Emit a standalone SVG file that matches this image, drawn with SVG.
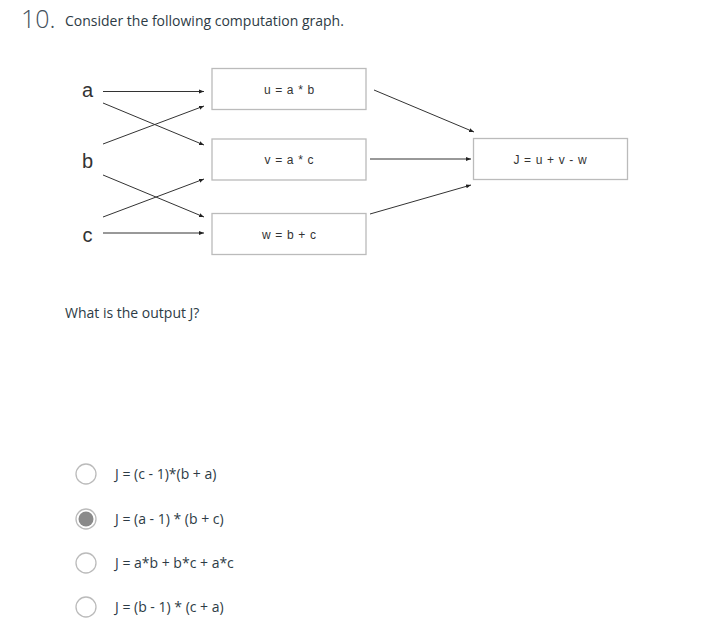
<svg xmlns="http://www.w3.org/2000/svg" width="719" height="629" viewBox="0 0 719 629">
<defs>
<marker id="ah" viewBox="0 0 10 10" refX="10" refY="5" markerWidth="5" markerHeight="5" orient="auto" markerUnits="userSpaceOnUse">
<path d="M0,1 L10,5 L0,9 z" fill="#222"/>
</marker>
<style>
.q{font-family:"Open Sans","Noto Sans",sans-serif;font-size:14px;fill:#2d3b45}
.num{font-family:"Open Sans","Noto Sans",sans-serif;font-size:25px;font-weight:300;fill:#44505c}
.v{font-family:"Liberation Sans",Arial,sans-serif;font-size:20px;fill:#333;text-anchor:middle}
.bx rect{fill:#fff;stroke:#bbb;stroke-width:1.3}
.bx text{font-family:"Liberation Sans",Arial,sans-serif;font-size:12px;word-spacing:1.3px;fill:#333;text-anchor:middle}
.e line{stroke:#333;stroke-width:1;marker-end:url(#ah)}
.r{fill:#fff;stroke:#bbb;stroke-width:1.3}
</style>
</defs>
<rect width="719" height="629" fill="#fff"/>
<text class="num" x="21" y="28">10.</text>
<text class="q" x="65" y="26">Consider the following computation graph.</text>

<g id="node-a"><text class="v" x="87.5" y="97">a</text></g>
<g id="node-b"><text class="v" x="87.5" y="168">b</text></g>
<g id="node-c"><text class="v" x="87.5" y="242">c</text></g>

<g id="node-u" class="bx"><rect x="212" y="68.5" width="154" height="41"/><text x="289" y="94">u = a * b</text></g>
<g id="node-v" class="bx"><rect x="212" y="139" width="154" height="41"/><text x="289" y="164">v = a * c</text></g>
<g id="node-w" class="bx"><rect x="212" y="213.5" width="154" height="41"/><text x="289" y="239">w = b + c</text></g>
<g id="node-J" class="bx"><rect x="473.5" y="138.5" width="154" height="41"/><text x="550" y="164">J = u + v - w</text></g>

<g id="connectors" class="e">
<line x1="103" y1="91.5" x2="204" y2="91.5"/>
<line x1="103" y1="103" x2="204" y2="145"/>
<line x1="103" y1="144" x2="204" y2="106"/>
<line x1="103" y1="175" x2="204" y2="217"/>
<line x1="103" y1="217" x2="204" y2="179"/>
<line x1="103" y1="233" x2="204" y2="233"/>
<line x1="374" y1="90" x2="474" y2="132"/>
<line x1="370" y1="159" x2="471" y2="159"/>
<line x1="370" y1="214" x2="471" y2="185"/>
</g>

<text class="q" x="65" y="318">What is the output J?</text>

<g id="opt1"><circle class="r" cx="86" cy="474" r="10"/><text class="q" x="115" y="479">J = (c - 1)*(b + a)</text></g>
<g id="opt2"><circle class="r" cx="86" cy="519" r="10"/><circle cx="86" cy="519" r="7.5" fill="#8a8a8a"/><text class="q" x="115" y="524">J = (a - 1) * (b + c)</text></g>
<g id="opt3"><circle class="r" cx="86" cy="563" r="10"/><text class="q" x="115" y="568">J = a*b + b*c + a*c</text></g>
<g id="opt4"><circle class="r" cx="86" cy="607" r="10"/><text class="q" x="115" y="612">J = (b - 1) * (c + a)</text></g>
</svg>
